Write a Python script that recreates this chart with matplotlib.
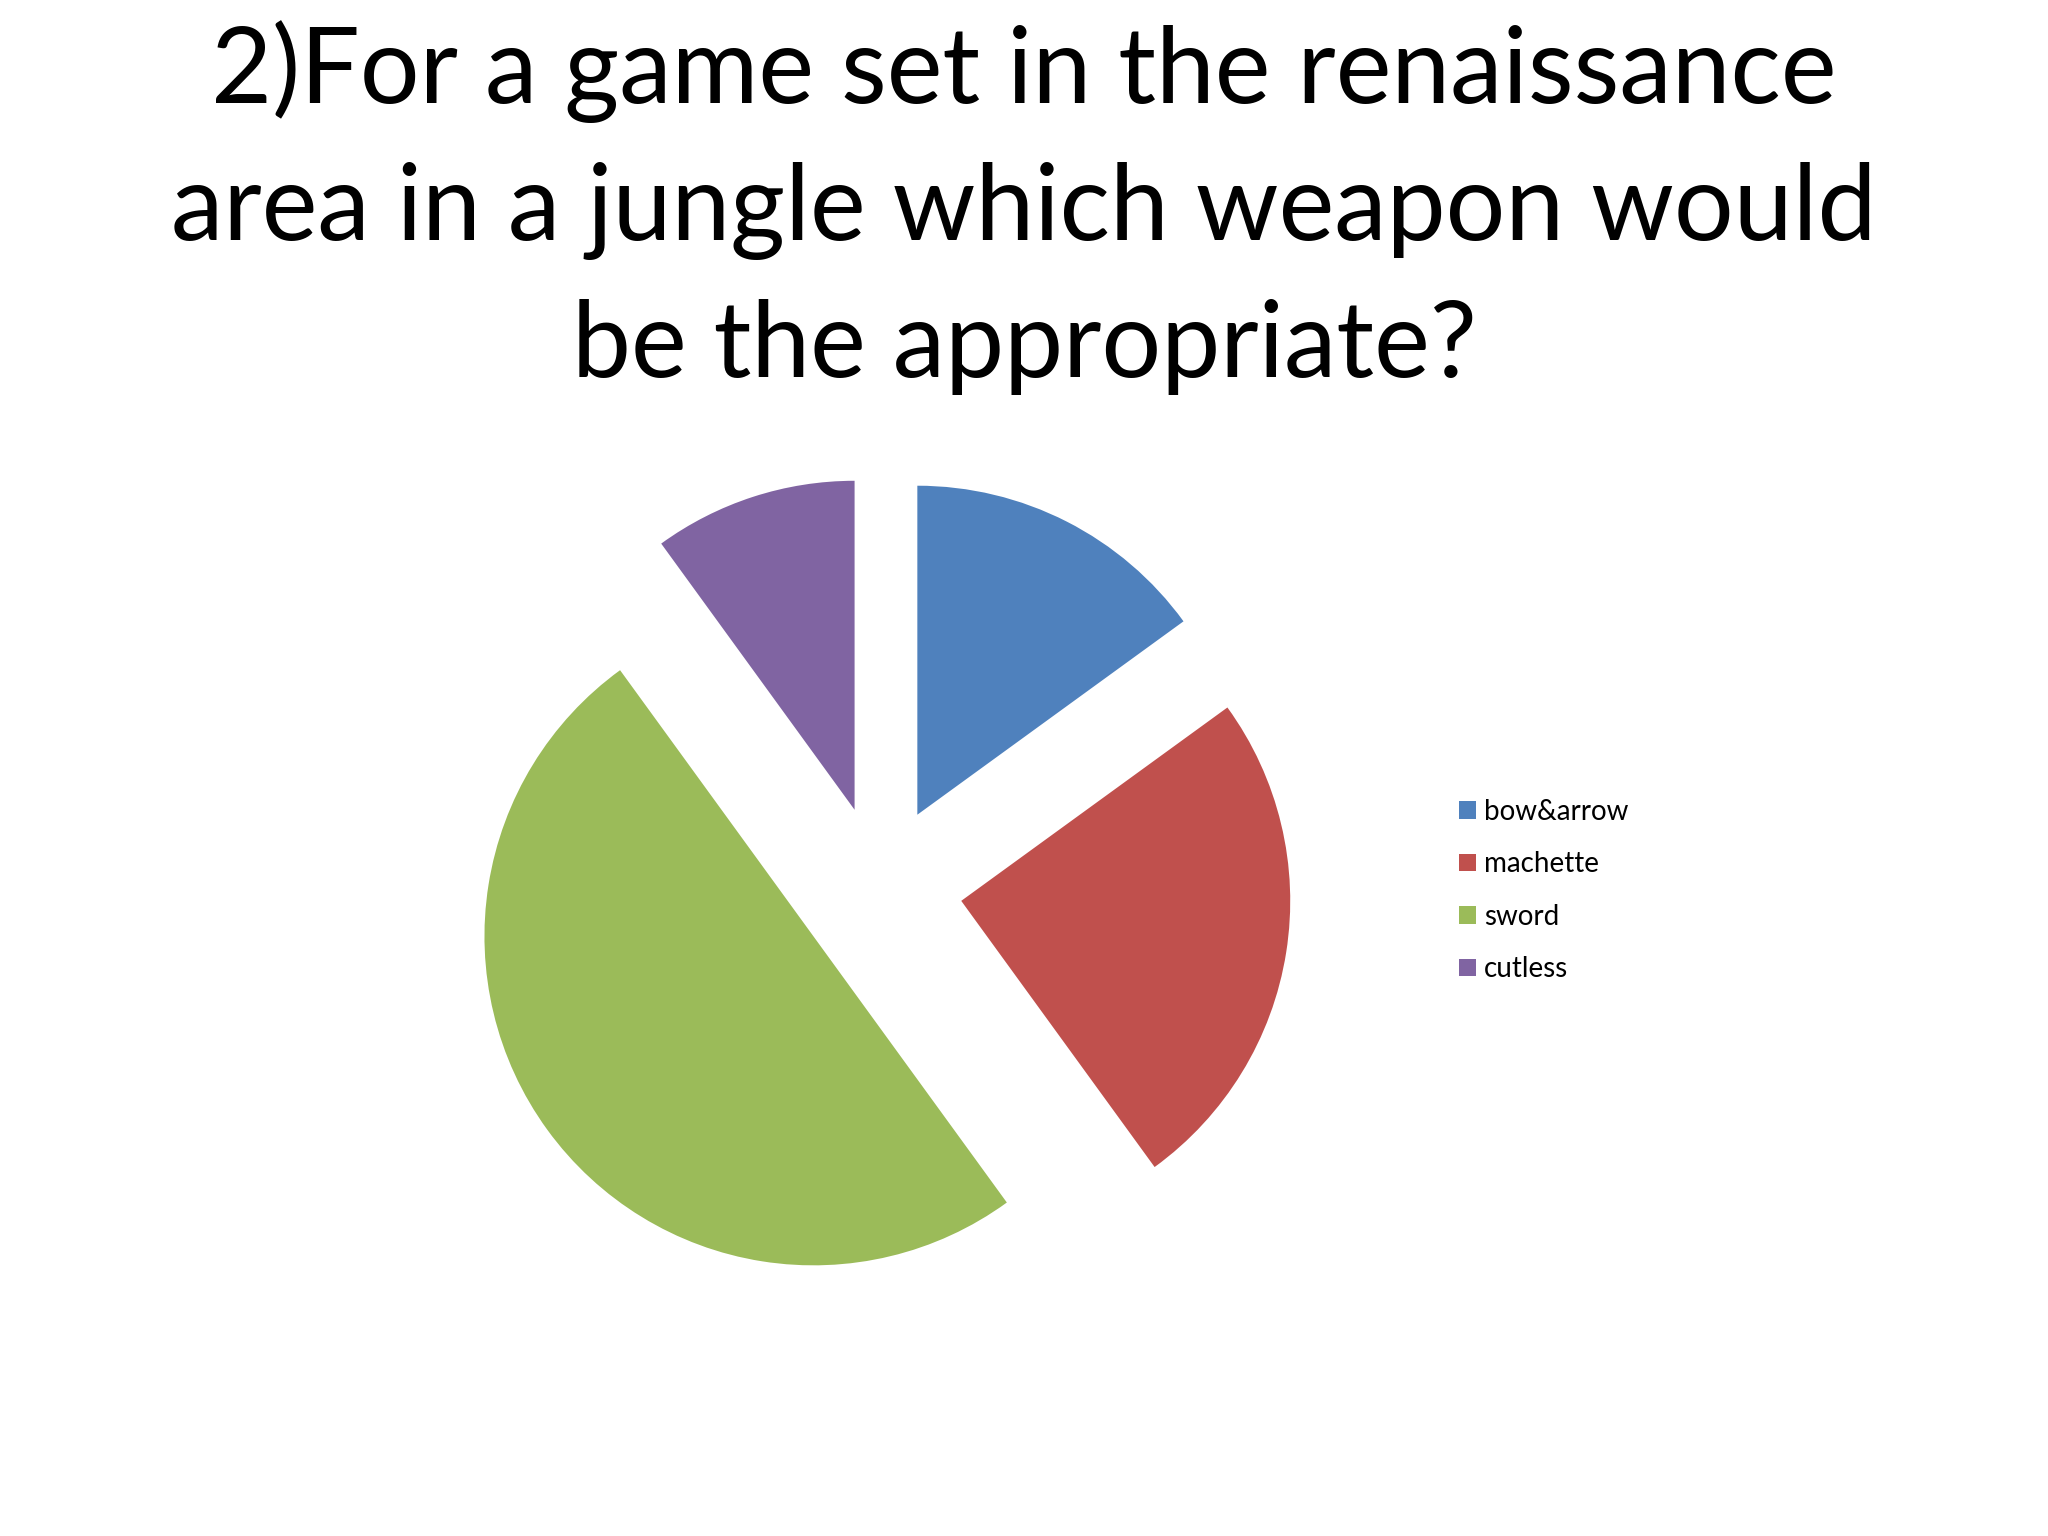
import matplotlib
matplotlib.use("Agg")
import matplotlib.pyplot as plt

plt.rcParams["font.family"] = ["Lato", "DejaVu Sans"]

W, H = 2048, 1536
DPI = 100

title_lines = ["2)For a game set in the renaissance",
               "area in a jungle which weapon would",
               "be the appropriate?"]
labels = ["bow&arrow", "machette", "sword", "cutless"]
values = [15, 25, 50, 10]
colors = ["#4F81BD", "#C0504D", "#9BBB59", "#8064A2"]

fig = plt.figure(figsize=(W / DPI, H / DPI), dpi=DPI)
fig.patch.set_facecolor("white")

# pie axes spanning the whole figure, 1 data unit = pie radius in pixels
R = 329
cx, cy = 880, 1536 - 888
ax = fig.add_axes([0, 0, 1, 1])
wedges, _ = ax.pie(values, colors=colors, startangle=90, counterclock=False,
                   explode=[0.25] * 4, radius=1.0)
ax.set_xlim(-cx / R, (W - cx) / R)
ax.set_ylim(-cy / R, (H - cy) / R)
ax.set_aspect("auto")
ax.axis("off")

baselines = [103, 240, 377]
for line, yb in zip(title_lines, baselines):
    fig.text(0.5, 1 - yb / H, line, ha="center", va="baseline",
             fontsize=76, color="black")

fig.legend(wedges, labels, loc="upper left",
           bbox_to_anchor=(1459 / W, 1 - 799 / H),
           frameon=False, fontsize=20, handlelength=0.6, handleheight=0.6,
           handletextpad=0.3, labelspacing=0.95, borderpad=0, borderaxespad=0)

fig.savefig("out.png", dpi=DPI, facecolor="white")
